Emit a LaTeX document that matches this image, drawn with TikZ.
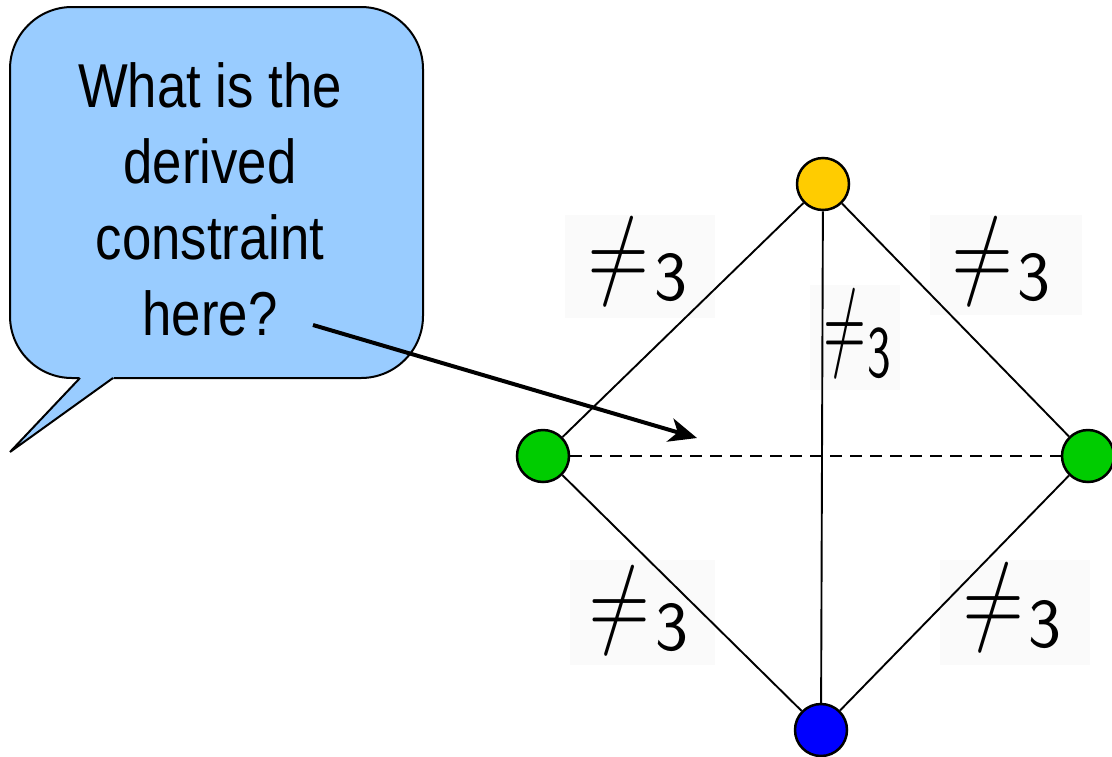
\documentclass[tikz,border=0pt]{standalone}
\usepackage{fontspec}
\newfontfamily\bubblefont[FakeStretch=0.85]{Liberation Sans}
\newfontfamily\digitfont{Latin Modern Sans}
\newfontfamily\digitfontn[FakeStretch=0.68]{Latin Modern Sans}
\newfontfamily\neqfont[FakeStretch=0.84]{Latin Modern Math}
\newfontfamily\neqfontn[FakeStretch=0.58]{Latin Modern Math}
\usetikzlibrary{arrows.meta}
\definecolor{bubblecol}{HTML}{99CCFF}
\definecolor{orangec}{HTML}{FFCC00}
\definecolor{greenc}{HTML}{00CC00}
\definecolor{bluec}{HTML}{0000FF}
\definecolor{boxc}{HTML}{FAFAFA}
\begin{document}
\begin{tikzpicture}[x=1pt,y=-1pt,
  vert/.style={circle,draw,line width=2.5pt,minimum size=52pt,inner sep=0pt},
  edgeline/.style={line width=1.9pt},
  neqlbl/.style={inner sep=0pt, font=\neqfont\fontsize{95}{95}\selectfont},
  neqlbln/.style={inner sep=0pt, font=\neqfontn\fontsize{95}{95}\selectfont},
  digitlbl/.style={inner sep=0pt, font=\digitfont\fontsize{70}{70}\selectfont},
  digitlbln/.style={inner sep=0pt, font=\digitfontn\fontsize{74}{74}\selectfont},
  lblbox/.style={fill=boxc}]
\useasboundingbox (0,0) rectangle (1112,756);
% faint label backgrounds
\fill[lblbox] (565,215) rectangle (715,318);
\fill[lblbox] (930,215) rectangle (1082,315);
\fill[lblbox] (810,285) rectangle (900,390);
\fill[lblbox] (570,560) rectangle (715,665);
\fill[lblbox] (940,560) rectangle (1090,665);
% callout
\node[draw, fill=bubblecol, rounded corners=62pt, line width=2pt,
      minimum width=413pt, minimum height=371pt, inner sep=0pt] (bubble) at (216.5,192.5) {};
\fill[bubblecol] (81,375) -- (112,375) -- (114,378) -- (10,452) -- (79,378) -- cycle;
\draw[line width=2pt, line join=miter] (80,378) -- (10,452) -- (113,378);
\node[font=\bubblefont\fontsize{62}{76}\selectfont, align=center, inner sep=0pt] (q) at (210,199)
  {What is the\\derived\\constraint\\here?};
% vertices
\node[vert, fill=orangec] (t) at (823,184) {};
\node[vert, fill=greenc] (l) at (543,456) {};
\node[vert, fill=greenc] (r) at (1088,456) {};
\node[vert, fill=bluec] (b) at (821,730) {};
% edges
\draw[edgeline] (t) -- (l);
\draw[edgeline] (t) -- (r);
\draw[edgeline] (l) -- (b);
\draw[edgeline] (r) -- (b);
\draw[edgeline] (t) -- (b);
\draw[edgeline, dash pattern=on 12pt off 8pt] (l) -- (r);
% labels
\node[neqlbl] (n1) at (619,262) {≠};
\node[digitlbl] (d1) at (671,278) {3};
\node[neqlbl] (n2) at (983,262) {≠};
\node[digitlbl] (d2) at (1034,278) {3};
\node[neqlbln] (n3) at (845,334) {≠};
\node[digitlbln] (d3) at (879,353) {3};
\node[neqlbl] (n4) at (620,611) {≠};
\node[digitlbl] (d4) at (672,628) {3};
\node[neqlbl] (n5) at (994,608) {≠};
\node[digitlbl] (d5) at (1045,625) {3};
% arrow
\coordinate (as) at (313,325);
\coordinate (ae) at (697,438);
\draw[line width=4pt, -{Stealth[length=28pt,width=24pt,inset=8pt]}] (as) -- (ae);
\end{tikzpicture}
\end{document}
